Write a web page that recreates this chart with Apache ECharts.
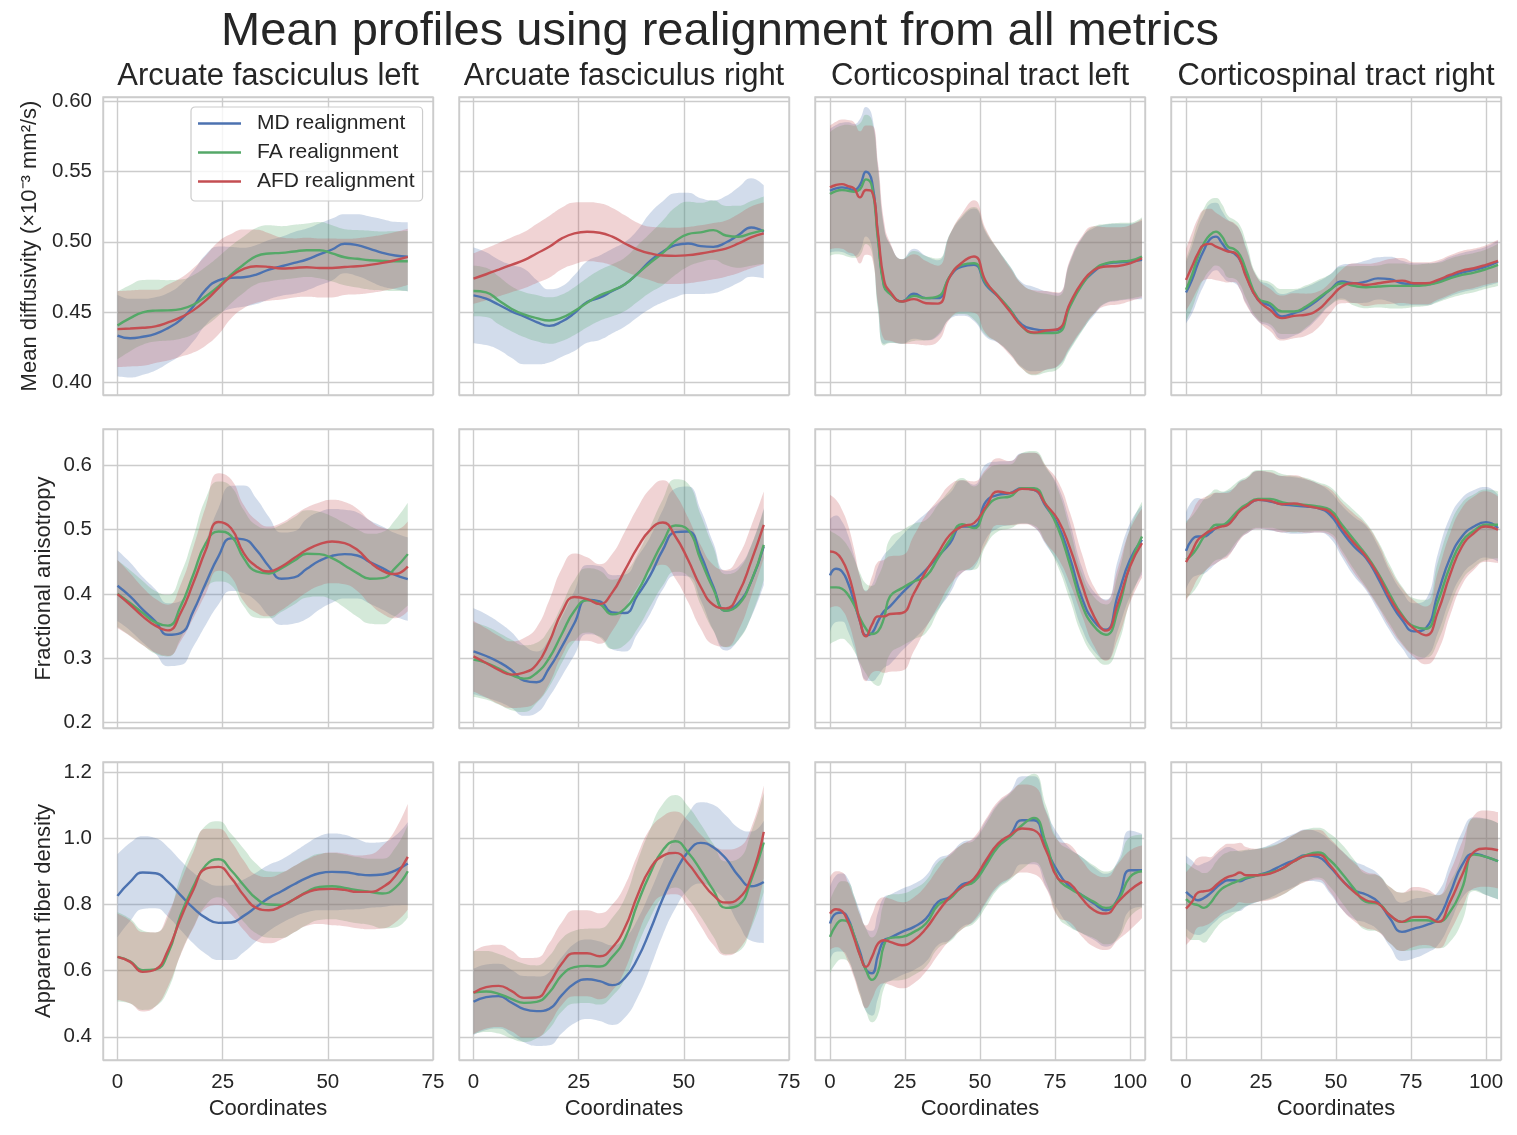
<!DOCTYPE html>
<html>
<head>
<meta charset="utf-8">
<script src="https://cdn.jsdelivr.net/npm/echarts@6/dist/echarts.min.js"></script>
<style>html,body{margin:0;padding:0;background:#fff}#chart{width:1517px;height:1135px}</style>
</head>
<body>
<div id="chart"></div>
<script>
// ---------------- texts ----------------
const SUPTITLE = 'Mean profiles using realignment from all metrics';
const TRACTS = ['Arcuate fasciculus left', 'Arcuate fasciculus right', 'Corticospinal tract left', 'Corticospinal tract right'];
const METRIC_LABELS = ['Mean diffusivity (×10⁻³ mm²/s)', 'Fractional anisotropy', 'Apparent fiber density'];
const REALIGNMENTS = ['MD realignment', 'FA realignment', 'AFD realignment'];
const X_LABEL = 'Coordinates';

// ---------------- tick labels / axis ranges ----------------
const X_TICKS_AF = ['0', '25', '50', '75'];
const X_TICKS_CST = ['0', '25', '50', '75', '100'];
const Y_TICKS_MD = ['0.40', '0.45', '0.50', '0.55', '0.60'];
const Y_TICKS_FA = ['0.2', '0.3', '0.4', '0.5', '0.6'];
const Y_TICKS_AFD = ['0.4', '0.6', '0.8', '1.0', '1.2'];
const X_LIM_AF = [-3.45, 75];
const X_LIM_CST = [-5, 105];
const Y_LIM_MD = [0.391, 0.603];
const Y_LIM_FA = [0.191, 0.657];
const Y_LIM_AFD = [0.33, 1.23];

// ---------------- sample coordinates ----------------
const X_AF = [0,3,6,9,12,15,18,21,24,27,30,33,36,39,42,45,48,51,54,57,60,63,66,69];
const X_CST = [0,2,4,6,8,10,12,14,16,18,20,24,28,32,36,40,44,48,52,56,60,64,68,72,76,80,84,88,92,96,100,104];

// ---------------- Mean diffusivity row ----------------
const afl_md__MD = [0.4333,0.4314,0.4324,0.4345,0.4386,0.4445,0.454,0.466,0.4726,0.4743,0.4748,0.4767,0.4802,0.4826,0.485,0.4874,0.491,0.4945,0.4986,0.4976,0.495,0.4921,0.4902,0.4893];
const afl_md__MD_sd = [0.029,0.028,0.027,0.026,0.025,0.025,0.025,0.025,0.024,0.022,0.021,0.021,0.021,0.021,0.022,0.022,0.022,0.022,0.021,0.022,0.023,0.024,0.024,0.0245];
const afl_md__FA = [0.4405,0.4457,0.4498,0.451,0.4512,0.4521,0.4552,0.4612,0.4683,0.4767,0.4838,0.4898,0.4917,0.4921,0.4931,0.494,0.494,0.4917,0.489,0.4879,0.4869,0.4864,0.4862,0.4862];
const afl_md__FA_sd = [0.024,0.0235,0.023,0.022,0.0215,0.021,0.021,0.021,0.021,0.0205,0.02,0.02,0.02,0.019,0.019,0.019,0.02,0.02,0.02,0.0205,0.021,0.021,0.0213,0.0215];
const afl_md__AFD = [0.4379,0.4383,0.4388,0.4398,0.4426,0.4462,0.4512,0.4583,0.4671,0.4755,0.4807,0.4826,0.4821,0.481,0.4814,0.4819,0.4814,0.4814,0.4821,0.4826,0.4836,0.485,0.4869,0.4893];
const afl_md__AFD_sd = [0.027,0.027,0.027,0.026,0.027,0.028,0.03,0.032,0.033,0.03,0.028,0.026,0.024,0.022,0.021,0.021,0.021,0.021,0.02,0.02,0.02,0.02,0.02,0.02];

const afr_md__MD = [0.4619,0.4595,0.4552,0.4505,0.4469,0.4429,0.4402,0.4433,0.4493,0.4571,0.4602,0.465,0.4698,0.4774,0.4864,0.4929,0.4976,0.4988,0.4969,0.4964,0.4995,0.5048,0.5102,0.5071];
const afr_md__MD_sd = [0.034,0.033,0.032,0.033,0.034,0.03,0.026,0.025,0.027,0.029,0.03,0.03,0.03,0.031,0.034,0.036,0.037,0.036,0.034,0.033,0.033,0.034,0.035,0.033];
const afr_md__FA = [0.465,0.464,0.4583,0.4524,0.4483,0.4457,0.444,0.446,0.4507,0.4567,0.4619,0.4655,0.4698,0.4774,0.485,0.4921,0.5005,0.5055,0.5067,0.5083,0.5045,0.5036,0.506,0.5083];
const afr_md__FA_sd = [0.018,0.0175,0.017,0.016,0.016,0.0165,0.0165,0.0165,0.017,0.0175,0.018,0.0185,0.019,0.02,0.021,0.023,0.024,0.023,0.021,0.021,0.021,0.022,0.023,0.024];
const afr_md__AFD = [0.4738,0.4769,0.4802,0.4836,0.4869,0.4917,0.4964,0.5024,0.506,0.5071,0.5064,0.5036,0.4988,0.4945,0.4917,0.4902,0.49,0.4905,0.4917,0.4933,0.4952,0.4988,0.5031,0.506];
const afr_md__AFD_sd = [0.018,0.0185,0.019,0.0195,0.02,0.021,0.022,0.022,0.022,0.021,0.021,0.0205,0.02,0.019,0.019,0.02,0.02,0.02,0.02,0.02,0.02,0.021,0.022,0.022];

const cstl_md__MD = [0.5363,0.538,0.5387,0.538,0.5368,0.5404,0.5498,0.5427,0.5037,0.4693,0.4634,0.4575,0.463,0.4599,0.4599,0.4753,0.4824,0.4836,0.4693,0.4611,0.4516,0.441,0.4379,0.4369,0.4374,0.4551,0.4701,0.4788,0.4843,0.4854,0.4859,0.4871];
const cstl_md__FA = [0.534,0.5361,0.5368,0.5363,0.5356,0.5373,0.5444,0.5392,0.5013,0.4682,0.463,0.4575,0.4615,0.4599,0.4611,0.4757,0.4836,0.4847,0.4705,0.4615,0.4516,0.4398,0.435,0.435,0.4355,0.454,0.4693,0.48,0.4847,0.4859,0.4866,0.4895];
const cstl_md__AFD = [0.5387,0.5404,0.541,0.5396,0.538,0.5316,0.5368,0.5356,0.506,0.4729,0.4646,0.4575,0.4592,0.4563,0.456,0.4753,0.4852,0.4895,0.4717,0.4611,0.4504,0.4398,0.4355,0.4369,0.4379,0.4563,0.471,0.48,0.4824,0.4828,0.4847,0.4883];
const cstl_md_sd = [0.044,0.045,0.046,0.047,0.047,0.047,0.046,0.047,0.05,0.042,0.035,0.03,0.032,0.03,0.027,0.03,0.035,0.04,0.037,0.033,0.031,0.03,0.03,0.028,0.026,0.031,0.033,0.031,0.028,0.0275,0.027,0.028];

const cstr_md__MD = [0.4639,0.4729,0.4847,0.4942,0.5018,0.5037,0.4989,0.4937,0.4918,0.4871,0.4764,0.4587,0.4544,0.4469,0.4492,0.4528,0.4587,0.4658,0.4717,0.4705,0.4717,0.474,0.4734,0.4705,0.4698,0.4698,0.4717,0.4753,0.4781,0.48,0.4824,0.4859];
const cstr_md__FA = [0.4658,0.4764,0.4895,0.4989,0.5049,0.5072,0.5037,0.4966,0.4948,0.4906,0.48,0.4599,0.4563,0.4504,0.4504,0.454,0.4599,0.4658,0.4705,0.4686,0.4677,0.4682,0.4686,0.4686,0.4686,0.4693,0.471,0.474,0.4764,0.4781,0.4805,0.4836];
const cstr_md__AFD = [0.4729,0.4824,0.4918,0.4978,0.4985,0.4966,0.4948,0.4931,0.4924,0.4871,0.4753,0.4587,0.4516,0.4457,0.4473,0.4481,0.4516,0.4599,0.4682,0.4705,0.4693,0.4705,0.4717,0.4724,0.4705,0.4705,0.4729,0.4764,0.4795,0.4812,0.4836,0.4864];
const cstr_md_sd = [0.022,0.024,0.025,0.025,0.025,0.024,0.023,0.022,0.021,0.021,0.02,0.015,0.015,0.016,0.016,0.015,0.013,0.011,0.012,0.014,0.015,0.015,0.016,0.016,0.015,0.015,0.014,0.014,0.014,0.014,0.014,0.015];

// ---------------- Fractional anisotropy row ----------------
const afl_fa__MD = [0.4127,0.3961,0.3754,0.3572,0.3364,0.339,0.3728,0.4169,0.4584,0.4865,0.485,0.4687,0.4428,0.4236,0.4257,0.4392,0.4516,0.4594,0.462,0.4599,0.4495,0.4402,0.4298,0.4231];
const afl_fa__MD_sd = [0.055,0.053,0.051,0.05,0.049,0.05,0.055,0.065,0.075,0.082,0.084,0.08,0.077,0.072,0.072,0.078,0.076,0.073,0.069,0.067,0.065,0.065,0.065,0.065];
const afl_fa__FA = [0.4003,0.3857,0.3702,0.3556,0.3505,0.3806,0.4298,0.4791,0.4973,0.4905,0.4558,0.435,0.4319,0.4402,0.4516,0.4625,0.462,0.4558,0.4444,0.4324,0.4236,0.4246,0.4402,0.462];
const afl_fa__FA_sd = [0.052,0.051,0.05,0.049,0.048,0.05,0.058,0.07,0.078,0.077,0.075,0.072,0.07,0.068,0.068,0.068,0.066,0.065,0.066,0.068,0.07,0.072,0.075,0.08];
const afl_fa__AFD = [0.3997,0.3831,0.365,0.3505,0.3432,0.3702,0.4169,0.4687,0.512,0.5025,0.4636,0.4428,0.435,0.4428,0.4558,0.4687,0.4776,0.4817,0.4791,0.4687,0.4495,0.436,0.4309,0.4428];
const afl_fa__AFD_sd = [0.053,0.049,0.045,0.042,0.04,0.044,0.055,0.068,0.076,0.076,0.075,0.072,0.07,0.068,0.067,0.066,0.065,0.065,0.064,0.064,0.065,0.067,0.069,0.07];

const afr_fa__MD = [0.3105,0.3032,0.2939,0.2815,0.2649,0.2623,0.2846,0.3178,0.3546,0.391,0.3885,0.3712,0.3702,0.398,0.4288,0.4687,0.4962,0.4973,0.461,0.4117,0.3738,0.3857,0.4195,0.4739];
const afr_fa__MD_sd = [0.067,0.065,0.062,0.059,0.055,0.048,0.045,0.046,0.05,0.054,0.055,0.058,0.06,0.06,0.06,0.062,0.068,0.07,0.07,0.068,0.062,0.057,0.056,0.06];
const afr_fa__FA = [0.2975,0.2924,0.2835,0.2737,0.268,0.2768,0.3001,0.3375,0.3738,0.3899,0.3842,0.3681,0.3769,0.4039,0.4423,0.4802,0.5066,0.4999,0.4532,0.4081,0.3738,0.3831,0.4195,0.4765];
const afr_fa__FA_sd = [0.058,0.057,0.056,0.055,0.052,0.047,0.045,0.045,0.048,0.05,0.052,0.054,0.056,0.058,0.062,0.067,0.072,0.072,0.07,0.065,0.057,0.055,0.055,0.055];
const afr_fa__AFD = [0.3027,0.2924,0.2815,0.2742,0.2773,0.2898,0.325,0.3717,0.3951,0.392,0.3842,0.4024,0.4371,0.4724,0.4999,0.5113,0.4895,0.4532,0.4112,0.3831,0.3774,0.4013,0.4506,0.5077];
const afr_fa__AFD_sd = [0.055,0.054,0.053,0.052,0.054,0.058,0.065,0.068,0.068,0.065,0.062,0.06,0.06,0.062,0.064,0.066,0.066,0.066,0.065,0.062,0.06,0.058,0.055,0.052];

const cstl_fa__MD = [0.4288,0.4392,0.435,0.4169,0.3883,0.3572,0.3354,0.3391,0.3572,0.3728,0.3805,0.4013,0.4195,0.4376,0.4585,0.4791,0.5051,0.5051,0.544,0.5543,0.557,0.5647,0.5621,0.5362,0.5077,0.4558,0.3935,0.3572,0.3442,0.3987,0.4532,0.4843];
const cstl_fa__FA = [0.4101,0.4101,0.408,0.3987,0.3831,0.3624,0.3458,0.3375,0.3416,0.3624,0.3961,0.409,0.4195,0.4272,0.4558,0.4843,0.5087,0.5025,0.5336,0.5492,0.5518,0.5647,0.5647,0.5388,0.5025,0.4454,0.3831,0.3494,0.3364,0.3754,0.4454,0.4895];
const cstl_fa__AFD = [0.4661,0.4636,0.4532,0.4324,0.3987,0.3572,0.3339,0.352,0.365,0.365,0.3686,0.3702,0.4013,0.435,0.4636,0.4921,0.5051,0.5103,0.5362,0.5595,0.557,0.5637,0.5621,0.5388,0.5155,0.4713,0.4143,0.365,0.3427,0.3857,0.4428,0.4791];
const cstl_fa_sd = [0.088,0.083,0.078,0.075,0.072,0.07,0.07,0.075,0.085,0.088,0.09,0.09,0.09,0.088,0.083,0.078,0.072,0.065,0.058,0.052,0.05,0.055,0.058,0.06,0.06,0.055,0.048,0.046,0.047,0.055,0.057,0.054];

const cstr_fa__MD = [0.4672,0.4843,0.4895,0.4895,0.4947,0.5025,0.5061,0.5103,0.518,0.531,0.5362,0.5466,0.544,0.5398,0.5378,0.5362,0.5336,0.5232,0.4973,0.4739,0.4558,0.4246,0.3883,0.3598,0.3416,0.3468,0.4013,0.4558,0.4895,0.5051,0.5118,0.5025];
const cstr_fa__FA = [0.4532,0.461,0.4739,0.4895,0.4999,0.5077,0.5077,0.5129,0.5232,0.5326,0.5388,0.5481,0.5481,0.5429,0.5398,0.5388,0.5362,0.531,0.5077,0.4843,0.461,0.4324,0.3987,0.3676,0.3494,0.3458,0.3883,0.4428,0.4817,0.4983,0.5077,0.5077];
const cstr_fa__AFD = [0.4496,0.4661,0.4843,0.4921,0.4983,0.5025,0.5051,0.5077,0.518,0.5294,0.5362,0.5466,0.545,0.5398,0.5408,0.5372,0.5336,0.5274,0.5025,0.4791,0.4584,0.4298,0.3935,0.365,0.3458,0.3354,0.3728,0.4298,0.4739,0.4947,0.5051,0.4999];
const cstr_fa_sd = [0.06,0.06,0.06,0.058,0.056,0.055,0.052,0.05,0.047,0.045,0.043,0.045,0.045,0.044,0.044,0.042,0.038,0.036,0.04,0.046,0.05,0.05,0.046,0.044,0.044,0.045,0.062,0.064,0.06,0.057,0.055,0.052];

// ---------------- Apparent fiber density row ----------------
const afl_afd__MD = [0.8257,0.8679,0.8961,0.8941,0.8679,0.8277,0.7894,0.7593,0.7442,0.7452,0.7653,0.7925,0.8196,0.8397,0.8609,0.88,0.8941,0.8981,0.8971,0.8911,0.888,0.8901,0.9021,0.9233];
const afl_afd__MD_sd = [0.125,0.118,0.11,0.106,0.105,0.105,0.107,0.109,0.112,0.113,0.11,0.104,0.1,0.096,0.098,0.104,0.112,0.116,0.113,0.106,0.098,0.098,0.105,0.125];
const afl_afd__FA = [0.6415,0.6284,0.6013,0.6033,0.6516,0.7673,0.8528,0.9182,0.9364,0.9031,0.8579,0.8176,0.7995,0.7985,0.8156,0.8377,0.8528,0.8548,0.8498,0.8428,0.8377,0.8327,0.85,0.9001];
const afl_afd__FA_sd = [0.135,0.128,0.12,0.112,0.11,0.118,0.122,0.12,0.115,0.11,0.11,0.105,0.1,0.1,0.1,0.1,0.1,0.1,0.1,0.1,0.1,0.105,0.12,0.14];
const afl_afd__AFD = [0.6415,0.6264,0.5962,0.6033,0.6616,0.7572,0.8428,0.9082,0.9132,0.88,0.8277,0.7894,0.7824,0.7945,0.8156,0.8357,0.8458,0.8468,0.8438,0.8377,0.8377,0.8518,0.885,0.9434];
const afl_afd__AFD_sd = [0.13,0.125,0.12,0.112,0.11,0.11,0.115,0.12,0.115,0.11,0.105,0.1,0.1,0.1,0.1,0.1,0.105,0.11,0.11,0.11,0.113,0.125,0.14,0.16];

const afr_afd__MD = [0.5057,0.5197,0.5228,0.5037,0.4835,0.4775,0.4845,0.5258,0.561,0.5741,0.568,0.556,0.5781,0.6365,0.7221,0.8176,0.8981,0.9585,0.9857,0.9726,0.9384,0.886,0.8548,0.8679];
const afr_afd__MD_sd = [0.1,0.099,0.098,0.099,0.1,0.105,0.11,0.115,0.12,0.12,0.12,0.12,0.12,0.118,0.115,0.11,0.11,0.115,0.123,0.128,0.13,0.145,0.165,0.185];
const afr_afd__FA = [0.5338,0.5369,0.5298,0.5147,0.5026,0.5057,0.5338,0.5862,0.6103,0.6143,0.6123,0.6415,0.6969,0.8025,0.8931,0.9635,0.9907,0.9565,0.9031,0.8428,0.7895,0.7975,0.873,0.9867];
const afr_afd__FA_sd = [0.125,0.122,0.12,0.12,0.118,0.11,0.11,0.11,0.11,0.112,0.115,0.118,0.122,0.128,0.134,0.14,0.14,0.14,0.14,0.14,0.14,0.14,0.145,0.15];
const afr_afd__AFD = [0.5328,0.5499,0.5539,0.5389,0.5177,0.5187,0.561,0.6214,0.6526,0.6526,0.6435,0.6697,0.73,0.8277,0.9082,0.9464,0.9555,0.9233,0.873,0.8277,0.8055,0.8176,0.883,1.0189];
const afr_afd__AFD_sd = [0.125,0.125,0.124,0.122,0.12,0.12,0.122,0.125,0.13,0.13,0.13,0.13,0.128,0.122,0.12,0.12,0.125,0.13,0.138,0.15,0.16,0.155,0.148,0.14];

const cstl_afd__MD = [0.7421,0.7723,0.7754,0.7572,0.7069,0.6566,0.603,0.592,0.6465,0.6918,0.6989,0.717,0.7321,0.7572,0.8076,0.8226,0.8598,0.873,0.9283,0.9786,1.0088,1.0541,1.0541,0.9686,0.8981,0.8528,0.8277,0.8025,0.7824,0.8176,0.9031,0.9031];
const cstl_afd__FA = [0.7019,0.7371,0.7522,0.7472,0.7069,0.6465,0.6013,0.572,0.5962,0.6767,0.6989,0.7019,0.717,0.7421,0.7975,0.8176,0.8528,0.868,0.9182,0.9736,1.0037,1.039,1.0612,0.9837,0.878,0.8478,0.8277,0.8076,0.7894,0.8126,0.883,0.9001];
const cstl_afd__AFD = [0.7723,0.7854,0.7794,0.7472,0.6989,0.6465,0.6113,0.6415,0.6818,0.6918,0.6868,0.6767,0.6918,0.727,0.7774,0.8226,0.8528,0.878,0.9333,0.9837,1.0088,1.029,1.0239,0.9635,0.878,0.8629,0.8176,0.7824,0.7723,0.8076,0.8428,0.8679];
const cstl_afd_sd = [0.11,0.115,0.118,0.12,0.12,0.122,0.125,0.128,0.13,0.13,0.13,0.13,0.13,0.13,0.13,0.13,0.128,0.125,0.125,0.127,0.13,0.133,0.133,0.115,0.115,0.117,0.115,0.11,0.11,0.115,0.12,0.11];

const cstr_afd__MD = [0.8377,0.8226,0.8126,0.8196,0.8327,0.8498,0.8649,0.873,0.873,0.87,0.878,0.8881,0.9001,0.9182,0.9333,0.9484,0.9434,0.9132,0.873,0.8428,0.8297,0.8076,0.7572,0.717,0.727,0.7371,0.7572,0.8327,0.9182,0.9534,0.9434,0.9303];
const cstr_afd__FA = [0.8156,0.8025,0.7975,0.7894,0.8025,0.8277,0.8478,0.8578,0.8659,0.873,0.88,0.8881,0.896,0.9082,0.9304,0.9484,0.9565,0.9333,0.8931,0.8478,0.8076,0.8025,0.7673,0.7472,0.7522,0.7522,0.7472,0.7774,0.8478,0.9504,0.9434,0.9303];
const cstr_afd__AFD = [0.7874,0.8076,0.8357,0.8397,0.8427,0.8578,0.873,0.883,0.8881,0.8961,0.8881,0.8881,0.8931,0.9082,0.9304,0.9464,0.9504,0.9182,0.873,0.8377,0.8126,0.8025,0.7673,0.7472,0.7623,0.7623,0.7472,0.8075,0.888,0.9585,0.9686,0.9635];
const cstr_afd_sd = [0.11,0.11,0.105,0.105,0.1,0.1,0.1,0.1,0.095,0.09,0.085,0.08,0.08,0.08,0.08,0.078,0.075,0.08,0.088,0.088,0.085,0.085,0.085,0.088,0.09,0.085,0.08,0.09,0.1,0.11,0.115,0.115];

// ---------------- tables built from the arrays ----------------
const ROWS = [
  { label: METRIC_LABELS[0], ticks: Y_TICKS_MD, lim: Y_LIM_MD, panels: [
    { x: X_AF, m: [afl_md__MD, afl_md__FA, afl_md__AFD], s: [afl_md__MD_sd, afl_md__FA_sd, afl_md__AFD_sd] },
    { x: X_AF, m: [afr_md__MD, afr_md__FA, afr_md__AFD], s: [afr_md__MD_sd, afr_md__FA_sd, afr_md__AFD_sd] },
    { x: X_CST, m: [cstl_md__MD, cstl_md__FA, cstl_md__AFD], s: [cstl_md_sd, cstl_md_sd, cstl_md_sd] },
    { x: X_CST, m: [cstr_md__MD, cstr_md__FA, cstr_md__AFD], s: [cstr_md_sd, cstr_md_sd, cstr_md_sd] } ] },
  { label: METRIC_LABELS[1], ticks: Y_TICKS_FA, lim: Y_LIM_FA, panels: [
    { x: X_AF, m: [afl_fa__MD, afl_fa__FA, afl_fa__AFD], s: [afl_fa__MD_sd, afl_fa__FA_sd, afl_fa__AFD_sd] },
    { x: X_AF, m: [afr_fa__MD, afr_fa__FA, afr_fa__AFD], s: [afr_fa__MD_sd, afr_fa__FA_sd, afr_fa__AFD_sd] },
    { x: X_CST, m: [cstl_fa__MD, cstl_fa__FA, cstl_fa__AFD], s: [cstl_fa_sd, cstl_fa_sd, cstl_fa_sd] },
    { x: X_CST, m: [cstr_fa__MD, cstr_fa__FA, cstr_fa__AFD], s: [cstr_fa_sd, cstr_fa_sd, cstr_fa_sd] } ] },
  { label: METRIC_LABELS[2], ticks: Y_TICKS_AFD, lim: Y_LIM_AFD, panels: [
    { x: X_AF, m: [afl_afd__MD, afl_afd__FA, afl_afd__AFD], s: [afl_afd__MD_sd, afl_afd__FA_sd, afl_afd__AFD_sd] },
    { x: X_AF, m: [afr_afd__MD, afr_afd__FA, afr_afd__AFD], s: [afr_afd__MD_sd, afr_afd__FA_sd, afr_afd__AFD_sd] },
    { x: X_CST, m: [cstl_afd__MD, cstl_afd__FA, cstl_afd__AFD], s: [cstl_afd_sd, cstl_afd_sd, cstl_afd_sd] },
    { x: X_CST, m: [cstr_afd__MD, cstr_afd__FA, cstr_afd__AFD], s: [cstr_afd_sd, cstr_afd_sd, cstr_afd_sd] } ] }
];
const COL_X = [ {ticks: X_TICKS_AF, lim: X_LIM_AF}, {ticks: X_TICKS_AF, lim: X_LIM_AF}, {ticks: X_TICKS_CST, lim: X_LIM_CST}, {ticks: X_TICKS_CST, lim: X_LIM_CST} ];

// ---------------- style / layout ----------------
const COLORS = ['#4C72B0', '#55A868', '#C44E52'];
const FONT = 'Liberation Sans, Arial, Helvetica, sans-serif';
const TEXT = '#262626';
const GRIDLINE = '#cccccc';
const GRID_LEFT = [103, 459, 815, 1171];
const GRID_W = 330;
const GRID_TOP = [97, 429, 762];
const GRID_H = [298, 299, 298];
const YNAME_GAP = [62, 48, 48];

function stepOf(ticks) { return Math.round((parseFloat(ticks[1]) - parseFloat(ticks[0])) * 1e6) / 1e6; }
function labeler(ticks) {
  return function (v) {
    const t = ticks.find(s => Math.abs(parseFloat(s) - v) < 1e-6);
    return t === undefined ? '' : t;
  };
}

const problems = [];
const grids = [], xAxes = [], yAxes = [], bandSeries = [], lineSeries = [];
ROWS.forEach((row, r) => {
  row.panels.forEach((p, c) => {
    const gi = r * 4 + c;
    grids.push({ left: GRID_LEFT[c], top: GRID_TOP[r], width: GRID_W, height: GRID_H[r], show: true,
      borderColor: GRIDLINE, borderWidth: 1.4, backgroundColor: 'transparent', containLabel: false, outerBoundsMode: 'none' });
    const cx = COL_X[c];
    const xi = stepOf(cx.ticks);
    xAxes.push({ type: 'value', gridIndex: gi, min: cx.lim[0], max: cx.lim[1], minInterval: xi, maxInterval: xi,
      axisLine: { show: false }, axisTick: { show: false },
      splitLine: { show: true, lineStyle: { color: GRIDLINE, width: 1.4 } },
      axisLabel: { show: r === 2, formatter: labeler(cx.ticks), margin: 12, fontSize: 20.5, color: TEXT, fontFamily: FONT,
        showMinLabel: false, showMaxLabel: true },
      name: r === 2 ? X_LABEL : '', nameLocation: 'middle', nameGap: 38, nameMoveOverlap: false,
      nameTextStyle: { fontSize: 22, color: TEXT, fontFamily: FONT } });
    const yi = stepOf(row.ticks);
    yAxes.push({ type: 'value', gridIndex: gi, min: row.lim[0], max: row.lim[1], minInterval: yi, maxInterval: yi,
      axisLine: { show: false }, axisTick: { show: false },
      splitLine: { show: true, lineStyle: { color: GRIDLINE, width: 1.4 } },
      axisLabel: { show: c === 0, formatter: labeler(row.ticks), margin: 11, fontSize: 20.5, color: TEXT, fontFamily: FONT,
        showMinLabel: false, showMaxLabel: false },
      name: c === 0 ? row.label : '', nameLocation: 'middle', nameRotate: 90, nameGap: YNAME_GAP[r], nameMoveOverlap: false,
      nameTextStyle: { fontSize: 22, color: TEXT, fontFamily: FONT } });
    p.m.forEach((mean, s) => {
      const sd = p.s[s];
      if (mean.length !== p.x.length || sd.length !== p.x.length) problems.push('panel ' + gi + ' series ' + s + ' len ' + mean.length + '/' + sd.length + ' vs ' + p.x.length);
      const stack = 'band-' + gi + '-' + s;
      // value first, coordinate second: the stack then runs along y
      bandSeries.push({ type: 'line', name: REALIGNMENTS[s] + ' lower', xAxisIndex: gi, yAxisIndex: gi, stack: stack,
        encode: { x: 1, y: 0 }, symbol: 'none', smooth: true, silent: true, z: 1, lineStyle: { width: 0, opacity: 0 },
        data: p.x.map((x, k) => [mean[k] - sd[k], x]) });
      bandSeries.push({ type: 'line', name: REALIGNMENTS[s] + ' spread', xAxisIndex: gi, yAxisIndex: gi, stack: stack,
        encode: { x: 1, y: 0 }, symbol: 'none', smooth: true, silent: true, z: 1, lineStyle: { width: 0, opacity: 0 },
        areaStyle: { color: COLORS[s], opacity: 0.25 },
        data: p.x.map((x, k) => [2 * sd[k], x]) });
      lineSeries.push({ type: 'line', name: REALIGNMENTS[s], xAxisIndex: gi, yAxisIndex: gi,
        symbol: 'none', smooth: true, z: 3, color: COLORS[s],
        lineStyle: { color: COLORS[s], width: 2.4 }, itemStyle: { color: COLORS[s] },
        data: p.x.map((x, k) => [x, mean[k]]) });
    });
  });
});

const titles = [{ text: SUPTITLE, left: 720, top: 9, textAlign: 'center', padding: 0,
  textStyle: { fontSize: 47, fontWeight: 'normal', color: TEXT, fontFamily: FONT } }];
TRACTS.forEach((t, c) => titles.push({ text: t, left: GRID_LEFT[c] + GRID_W / 2, top: 60.5, textAlign: 'center', padding: 0,
  textStyle: { fontSize: 31, fontWeight: 'normal', color: TEXT, fontFamily: FONT } }));

const chart = echarts.init(document.getElementById('chart'), null, { renderer: 'canvas' });
chart.setOption({
  backgroundColor: '#ffffff',
  animation: false,
  textStyle: { fontFamily: FONT },
  title: titles,
  legend: { data: REALIGNMENTS, orient: 'vertical', top: 107, left: 191, itemWidth: 43, itemHeight: 2.4, itemGap: 8,
    icon: 'rect',
    padding: [6, 8, 9, 7], backgroundColor: 'rgba(255,255,255,0.8)', borderColor: GRIDLINE, borderWidth: 1.2, borderRadius: 4,
    selectedMode: false,
    textStyle: { fontSize: 21, color: TEXT, fontFamily: FONT, padding: [0, 0, 0, 11] } },
  grid: grids,
  xAxis: xAxes,
  yAxis: yAxes,
  series: bandSeries.concat(lineSeries)
});
if (problems.length) { throw new Error(problems.join('; ')); }
</script>
</body>
</html>
